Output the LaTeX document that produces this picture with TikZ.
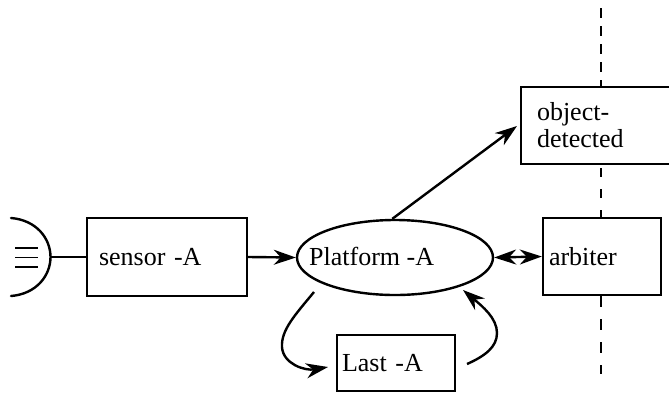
\documentclass[tikz,border=0pt]{standalone}
\usepackage{fontspec}
\setmainfont{Liberation Serif}
\usetikzlibrary{arrows.meta,shapes.geometric}
\tikzset{
  line/.style={line width=2.4pt,black},
  tip/.tip={Stealth[length=22pt,width=15pt,inset=7pt]},
  conn/.style={line,-tip},
  dconn/.style={line,tip-tip},
  boundary/.style={line width=2.4pt,black},
  boxnode/.style={draw,line width=2.4pt,fill=white,rectangle,align=left,font=\fontsize{26}{27}\selectfont,inner ysep=0pt},
  txt/.style={font=\fontsize{26}{27}\selectfont,inner sep=0pt}
}
\begin{document}
\begin{tikzpicture}[x=1pt,y=-1pt]
\useasboundingbox (0,0) rectangle (669,392);
\clip (0,0) rectangle (669,392);
% boundary line
\coordinate (d0) at (601,8);
\coordinate (d1) at (601,87);
\draw[boundary,dash pattern=on 10pt off 8pt] (d0) -- (d1);
\coordinate (d2) at (601,168);
\coordinate (d3) at (601,218);
\draw[boundary,dash pattern=on 9pt off 12pt] (d2) -- (d3);
\coordinate (d4) at (601,296);
\coordinate (d5) at (601,374);
\draw[boundary,dash pattern=on 11pt off 12pt] (d4) -- (d5);
% boxes
\node[boxnode,minimum width=160pt,minimum height=78pt,text width=136pt,inner xsep=12pt] (sensor) at (167,257) {sensor -A};
\node[boxnode,minimum width=118pt,minimum height=77pt,text width=106pt,inner xsep=6pt] (arbiter) at (602,256.5) {arbiter};
\node[boxnode,minimum width=118pt,minimum height=56pt,text width=108pt,inner xsep=5pt] (last) at (396,363) {Last -A};
\node[boxnode,minimum width=170pt,minimum height=77pt,text width=138pt,inner xsep=16pt] (obj) at (606,125.5) {object-\\detected};
\node[draw,line width=2.4pt,ellipse,minimum width=196pt,minimum height=75pt,inner sep=0pt] (plat) at (395,257.5) {};
\node[txt,anchor=west] (platlabel) at (309,256) {Platform -A};
% sensor symbol
\coordinate (arcA) at (11,218);
\coordinate (arcB) at (11,296);
\coordinate (arcT) at (50.5,257);
\draw[line,line cap=round] (arcA) .. controls (36,220) and (50.5,238) .. (arcT) .. controls (50.5,276) and (36,294) .. (arcB);
\foreach \n/\yy in {a/248,b/257.5,c/267}{
  \coordinate (l\n) at (15,\yy);
  \coordinate (r\n) at (38,\yy);
  \draw[line width=1.8pt] (l\n) -- (r\n);
}
% connectors
\draw[line] (arcT) -- (sensor.west);
\draw[conn] (sensor.east) -- (plat.west);
\coordinate (objIn) at (517,126);
\draw[conn] (plat.94) -- (objIn);
\draw[dconn] (plat.east) -- (arbiter.west);
\coordinate (loopA) at (314,292);
\coordinate (loopB) at (328,367);
\draw[conn] (loopA) .. controls (295,315) and (281,330) .. (282,347) .. controls (283,364) and (305,371) .. (loopB);
\coordinate (loopC) at (467,364);
\coordinate (loopD) at (463,290);
\draw[conn] (loopC) .. controls (485,356) and (497,347) .. (497,333) .. controls (497,318) and (482,306) .. (loopD);
\end{tikzpicture}
\end{document}
